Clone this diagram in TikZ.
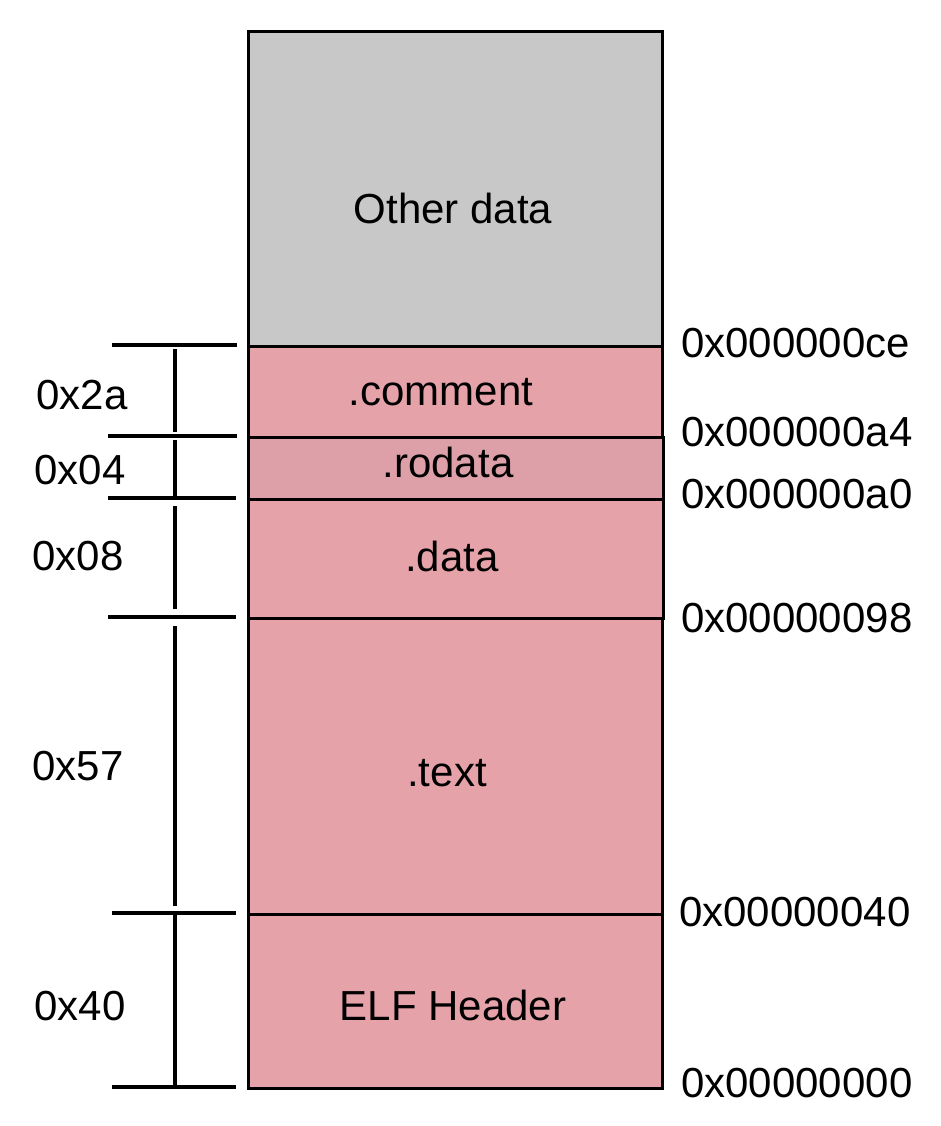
\documentclass[tikz,border=0pt]{standalone}
\usepackage{fontspec}
\setmainfont{Liberation Sans}
\begin{document}
\begin{tikzpicture}[x=1pt,y=-1pt,
  sec/.style={draw=black, line width=3.3pt, anchor=north west, inner sep=0pt, minimum width=414pt},
  lbl/.style={font=\fontsize{42}{50}\selectfont, inner sep=0pt},
  addr/.style={font=\fontsize{42}{50}\selectfont, inner sep=0pt, anchor=west},
  tick/.style={line width=3.3pt},
  dim/.style={line width=3.3pt}]
\useasboundingbox[fill=white] (0,0) rectangle (940,1126);
\definecolor{gray1}{HTML}{C8C8C8}
\definecolor{pink1}{HTML}{E6A2A9}
\definecolor{pink2}{HTML}{DDA0A8}
% sections
\node[sec, fill=gray1, minimum height=315pt] (other) at (247,30) {};
\node[sec, fill=pink1, minimum height=91pt] (comment) at (247,345) {};
\node[sec, fill=pink2, minimum height=62pt, minimum width=415pt] (rodata) at (247,436) {};
\node[sec, fill=pink1, minimum height=119pt, minimum width=415pt] (data) at (247,498) {};
\node[sec, fill=pink1, minimum height=296pt] (text) at (247,617) {};
\node[sec, fill=pink1, minimum height=174pt] (elf) at (247,913) {};
% section names
\node[lbl] (tother) at (453,208) {Other data};
\node[lbl] (tcomment) at (441,392) {.comment};
\node[lbl] (trodata) at (448,462) {.rodata};
\node[lbl] (tdata) at (452,556) {.data};
\node[lbl] (ttext) at (447,773) {.text};
\node[lbl] (telf) at (453,1005) {ELF Header};
% addresses
\node[addr] (a1) at (681,343) {0x000000ce};
\node[addr] (a2) at (681,432) {0x000000a4};
\node[addr] (a3) at (681,494) {0x000000a0};
\node[addr] (a4) at (681,618) {0x00000098};
\node[addr] (a5) at (679,912) {0x00000040};
\node[addr] (a6) at (681,1083) {0x00000000};
% ticks
\coordinate (h1l) at (112,345); \coordinate (h1r) at (237,345);
\coordinate (h2l) at (108,436); \coordinate (h2r) at (237,436);
\coordinate (h3l) at (108,498); \coordinate (h3r) at (236,498);
\coordinate (h4l) at (108,617); \coordinate (h4r) at (236,617);
\coordinate (h5l) at (112,913); \coordinate (h5r) at (236,913);
\coordinate (h6l) at (112,1087); \coordinate (h6r) at (236,1087);
\foreach \i in {1,...,6} {\draw[tick] (h\i l) -- (h\i r);}
% vertical dimension lines
\coordinate (v1a) at (175,349); \coordinate (v1b) at (175,432);
\coordinate (v2a) at (175,440); \coordinate (v2b) at (175,498);
\coordinate (v3a) at (175,506); \coordinate (v3b) at (175,609);
\coordinate (v4a) at (175,626); \coordinate (v4b) at (175,906);
\coordinate (v5a) at (175,913); \coordinate (v5b) at (175,1087);
\foreach \i in {1,...,5} {\draw[dim] (v\i a) -- (v\i b);}
% sizes
\node[lbl] (s1) at (82,395) {0x2a};
\node[lbl] (s2) at (80,470) {0x04};
\node[lbl] (s3) at (78,556) {0x08};
\node[lbl] (s4) at (78,766) {0x57};
\node[lbl] (s5) at (80,1006) {0x40};
\end{tikzpicture}
\end{document}
